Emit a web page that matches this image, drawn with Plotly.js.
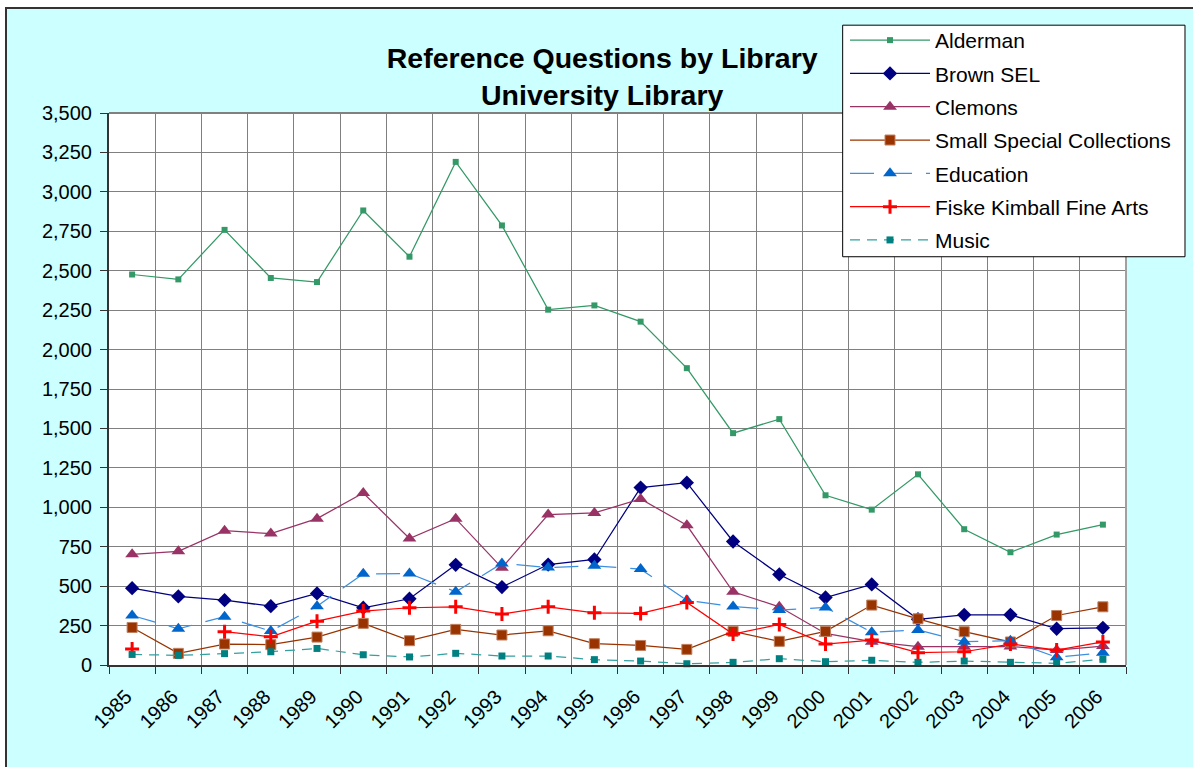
<!DOCTYPE html>
<html>
<head>
<meta charset="utf-8">
<script src="https://cdn.plot.ly/plotly-3.0.1.min.js"></script>
<style>
  html, body { margin: 0; padding: 0; background: #ffffff; width: 1193px; height: 767px; overflow: hidden; }
  #frame { position: absolute; left: 5px; top: 7px; width: 1188px; height: 760px;
           border-left: 2px solid #333333; border-top: 2px solid #333333; background: #CCFFFF; }
  #chart { position: absolute; left: 0; top: 0; width: 1188px; height: 760px; }
</style>
</head>
<body>
<div id="frame"><div id="chart"></div></div>
<script>
const years = ["1985","1986","1987","1988","1989","1990","1991","1992","1993","1994","1995",
               "1996","1997","1998","1999","2000","2001","2002","2003","2004","2005","2006"];
const alderman = [2476,2445,2759,2454,2428,2882,2589,3190,2787,2253,2280,2177,1882,1470,1559,1076,985,1209,861,715,827,890];
const brownSEL = [487,435,411,373,454,363,420,635,494,637,669,1125,1156,783,574,428,511,290,318,318,230,236];
const clemons = [702,721,852,833,928,1091,802,928,616,954,964,1053,886,464,369,200,148,116,116,117,95,120];
const smallSpecial = [238,74,133,129,177,264,154,226,190,217,135,124,99,213,150,213,380,293,211,146,314,369];
const education = [314,230,306,215,373,578,580,464,644,618,629,608,411,371,348,365,207,222,148,154,49,78];
const fiskeKimball = [101,null,211,179,278,342,363,369,323,369,331,327,397,196,257,133,158,78,84,133,95,146];
const music = [67,61,72,84,105,65,51,74,57,57,34,25,8,17,40,21,30,17,25,17,11,36];

const FONT = 'Arial, "Liberation Sans", sans-serif';

function tr(name, y, lineColor, dash, width, symbol, size, markerColor, extraMarker) {
  const m = Object.assign({symbol: symbol, size: size, color: markerColor, line: {width: 0}}, extraMarker || {});
  return {
    type: 'scatter', mode: 'lines+markers', name: name, x: years, y: y,
    legendgroup: name,
    connectgaps: false, cliponaxis: false,
    line: {color: lineColor, width: width, dash: dash},
    marker: m
  };
}

const data = [
  tr('Alderman', alderman, '#339966', 'solid', 1.25, 'square', 6, '#339966'),
  tr('Brown SEL', brownSEL, '#000080', 'solid', 1.25, 'diamond', 11, '#000080'),
  tr('Clemons', clemons, '#993366', 'solid', 1.25, 'triangle-up', 12, '#993366'),
  tr('Small Special Collections', smallSpecial, '#993300', 'solid', 1.25, 'square', 10, '#993300',
     {line: {width: 1, color: '#c08060'}}),
  tr('Education', education, '#3d8fe0', '24px,14px', 1.25, 'triangle-up', 12, '#0066CC'),
  tr('Fiske Kimball Fine Arts', fiskeKimball, '#FF0000', 'solid', 1.25, 'cross-thin', 10, '#FF0000',
     {line: {width: 3, color: '#FF0000'}}),
  tr('Music', music, '#33a0a0', '10px,7px', 1.25, 'square', 7, '#008080')
];

const layout = {
  width: 1188, height: 760,
  paper_bgcolor: '#CCFFFF', plot_bgcolor: '#FFFFFF',
  margin: {l: 102, r: 69, t: 103, b: 104, pad: 0},
  font: {family: FONT, color: '#000000', size: 20},
  title: {
    text: '<b>Reference Questions by Library<br>University Library</b>',
    font: {family: FONT, size: 28.5, color: '#000000'},
    xref: 'container', yref: 'container', x: 0.501, xanchor: 'center',
    y: 0.922, yanchor: 'middle'
  },
  showlegend: true,
  legend: {
    x: 0.7237, y: 1.1664, xanchor: 'left', yanchor: 'top',
    bgcolor: 'rgba(0,0,0,0)', borderwidth: 0,
    font: {family: FONT, size: 21, color: '#000000'},
    itemwidth: 80, tracegroupgap: 3
  },
  xaxis: {
    type: 'category', range: [-0.5, 21.5], tickson: 'boundaries',
    ticks: 'outside', ticklen: 7, tickcolor: '#333333', tickwidth: 1,
    showgrid: true, gridcolor: '#808080', gridwidth: 1,
    showline: true, linecolor: '#333333', linewidth: 2, mirror: false,
    tickangle: -45, tickfont: {family: FONT, size: 20, color: '#000000'},
    ticklabelstandoff: 10, ticklabelshift: -6,
    zeroline: false, fixedrange: true
  },
  yaxis: {
    range: [0, 3500], dtick: 250, tick0: 0, tickformat: ',d',
    ticks: 'outside', ticklen: 7, tickcolor: '#333333', tickwidth: 1,
    showgrid: true, gridcolor: '#808080', gridwidth: 1,
    showline: true, linecolor: '#333333', linewidth: 2,
    zeroline: false, tickfont: {family: FONT, size: 20, color: '#000000'},
    ticklabelstandoff: 4,
    fixedrange: true
  },
  shapes: [
    {type: 'line', xref: 'paper', yref: 'paper', x0: 0, x1: 1, y0: 1, y1: 1, line: {color: '#808080', width: 2}},
    {type: 'line', xref: 'paper', yref: 'paper', x0: 1, x1: 1, y0: 0, y1: 1, line: {color: '#a0a0a0', width: 2}},
    {type: 'rect', xref: 'paper', yref: 'paper', layer: 'above',
     x0: 0.7214, x1: 1.058, y0: 0.7396, y1: 1.1591,
     fillcolor: '#FFFFFF', line: {color: '#000000', width: 1}}
  ]
};

Plotly.newPlot('chart', data, layout, {displayModeBar: false, staticPlot: true});
</script>
</body>
</html>
